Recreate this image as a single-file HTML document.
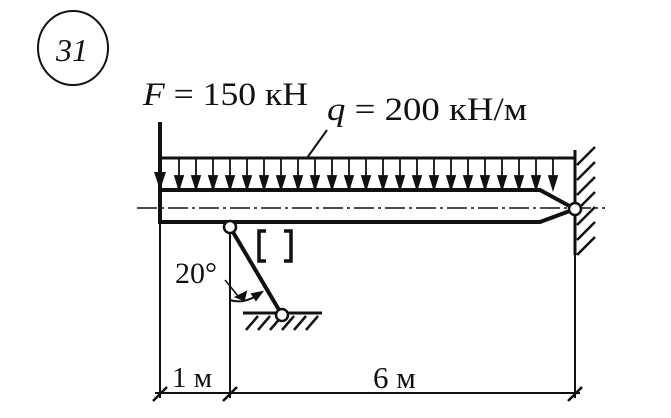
<!DOCTYPE html>
<html><head><style>body{margin:0;background:#fff}svg{display:block}</style></head><body>
<svg width="671" height="418" viewBox="0 0 671 418" xmlns="http://www.w3.org/2000/svg" font-family="Liberation Serif, serif" fill="#111">
<ellipse cx="73" cy="48" rx="35" ry="37" fill="none" stroke="#111" stroke-width="2"/>
<text x="56" y="61" font-size="32" font-style="italic">31</text>
<text x="143" y="105" font-size="33" textLength="165" lengthAdjust="spacingAndGlyphs"><tspan font-style="italic">F</tspan> = 150 кН</text>
<text x="327" y="120" font-size="33" textLength="200" lengthAdjust="spacingAndGlyphs"><tspan font-style="italic">q</tspan> = 200 кН/м</text>
<g stroke="#111" fill="none">
<line x1="307" y1="158" x2="327" y2="130" stroke-width="2"/>
<line x1="160" y1="122" x2="160" y2="190" stroke-width="4"/>
<line x1="160" y1="158" x2="575" y2="158" stroke-width="3"/>
<path d="M160 190 H540 L575 209 L540 222 H160 Z" stroke-width="4"/>
<line x1="137" y1="208" x2="605" y2="208" stroke-width="1.5" stroke-dasharray="20 4 3 4"/>
<line x1="575" y1="150" x2="575" y2="255" stroke-width="3"/>
<path d="M577 165l18-18M577 180l18-18M577 195l18-18M577 210l18-18M577 225l18-18M577 240l18-18M577 255l18-18" stroke-width="2.5"/>
<line x1="160" y1="190" x2="160" y2="398" stroke-width="2"/>
<line x1="230" y1="227" x2="230" y2="398" stroke-width="2"/>
<line x1="575" y1="222" x2="575" y2="398" stroke-width="2"/>
<line x1="155" y1="393" x2="580" y2="393" stroke-width="2"/>
<path d="M153 401l14-14M223 401l14-14M568 401l14-14" stroke-width="2.5"/>
<line x1="230" y1="227" x2="282" y2="315" stroke-width="4"/>
<line x1="243" y1="313" x2="322" y2="313" stroke-width="3"/>
<path d="M246 330l12-14M258 330l12-14M270 330l12-14M282 330l12-14M294 330l12-14M306 330l12-14" stroke-width="2.5"/>
<path d="M230 300 Q245 305 262 292" stroke-width="2"/>
<line x1="225" y1="280" x2="238" y2="296" stroke-width="1.5"/>
<path d="M266 231h-7v30h7M284 231h7v30h-7" stroke-width="3.5"/>
</g>
<polygon points="154,172 166,172 160,190" fill="#111"/>
<g fill="#fff" stroke="#111" stroke-width="2.5">
<circle cx="575" cy="209" r="6"/>
<circle cx="230" cy="227" r="6"/>
<circle cx="282" cy="315" r="6"/>
</g>
<g fill="#111" stroke="#111" stroke-width="1.8">
<line x1="179" y1="158" x2="179" y2="188"/><polygon points="175,176 183,176 179,189"/>
<line x1="196" y1="158" x2="196" y2="188"/><polygon points="192,176 200,176 196,189"/>
<line x1="213" y1="158" x2="213" y2="188"/><polygon points="209,176 217,176 213,189"/>
<line x1="230" y1="158" x2="230" y2="188"/><polygon points="226,176 234,176 230,189"/>
<line x1="247" y1="158" x2="247" y2="188"/><polygon points="243,176 251,176 247,189"/>
<line x1="264" y1="158" x2="264" y2="188"/><polygon points="260,176 268,176 264,189"/>
<line x1="281" y1="158" x2="281" y2="188"/><polygon points="277,176 285,176 281,189"/>
<line x1="298" y1="158" x2="298" y2="188"/><polygon points="294,176 302,176 298,189"/>
<line x1="315" y1="158" x2="315" y2="188"/><polygon points="311,176 319,176 315,189"/>
<line x1="332" y1="158" x2="332" y2="188"/><polygon points="328,176 336,176 332,189"/>
<line x1="349" y1="158" x2="349" y2="188"/><polygon points="345,176 353,176 349,189"/>
<line x1="366" y1="158" x2="366" y2="188"/><polygon points="362,176 370,176 366,189"/>
<line x1="383" y1="158" x2="383" y2="188"/><polygon points="379,176 387,176 383,189"/>
<line x1="400" y1="158" x2="400" y2="188"/><polygon points="396,176 404,176 400,189"/>
<line x1="417" y1="158" x2="417" y2="188"/><polygon points="413,176 421,176 417,189"/>
<line x1="434" y1="158" x2="434" y2="188"/><polygon points="430,176 438,176 434,189"/>
<line x1="451" y1="158" x2="451" y2="188"/><polygon points="447,176 455,176 451,189"/>
<line x1="468" y1="158" x2="468" y2="188"/><polygon points="464,176 472,176 468,189"/>
<line x1="485" y1="158" x2="485" y2="188"/><polygon points="481,176 489,176 485,189"/>
<line x1="502" y1="158" x2="502" y2="188"/><polygon points="498,176 506,176 502,189"/>
<line x1="519" y1="158" x2="519" y2="188"/><polygon points="515,176 523,176 519,189"/>
<line x1="536" y1="158" x2="536" y2="188"/><polygon points="532,176 540,176 536,189"/>
<line x1="553" y1="158" x2="553" y2="188"/><polygon points="549,176 557,176 553,189"/>
<polygon points="236,297 246,292 244,300"/><polygon points="262,292 252,294 256,300"/>
</g>
<text x="175" y="283" font-size="30">20°</text>
<text x="172" y="387" font-size="29">1 м</text>
<text x="373" y="388" font-size="31">6 м</text>
</svg>
</body></html>
